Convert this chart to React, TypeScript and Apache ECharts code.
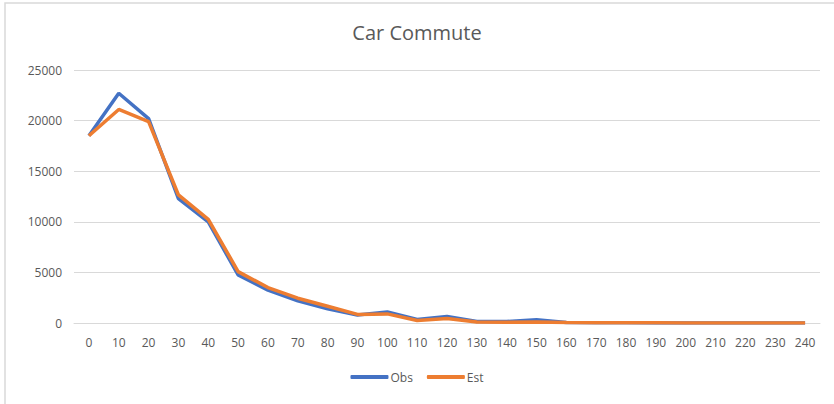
import React, { useEffect, useRef } from "react";
import * as echarts from "echarts";

const categories = ["0","10","20","30","40","50","60","70","80","90","100","110","120","130","140","150","160","170","180","190","200","210","220","230","240"];
const obs = [18500, 22700, 20200, 12300, 10000, 4750, 3250, 2200, 1400, 780, 1100, 350, 650, 150, 150, 330, 50, 20, 15, 10, 10, 10, 5, 5, 5];
const est = [18500, 21100, 19900, 12650, 10250, 5080, 3500, 2450, 1650, 850, 900, 250, 450, 100, 80, 100, 40, 25, 20, 15, 10, 10, 8, 6, 5];
const yTicks = { min: 0, max: 25000, interval: 5000 };

export default function App() {
  const ref = useRef<HTMLDivElement>(null);
  useEffect(() => {
    const chart = echarts.init(ref.current!, null, { renderer: "svg" });
    const font = "'Open Sans', 'Noto Sans', sans-serif";
    chart.setOption({
      animation: false,
      backgroundColor: "#fff",
      title: {
        text: "Car Commute",
        left: "center",
        top: 17,
        textStyle: { color: "#595959", fontSize: 20, fontWeight: "normal", fontFamily: font },
      },
      graphic: [
        {
          type: "rect",
          shape: { x: 5, y: 3, width: 840, height: 420 },
          style: { fill: "none", stroke: "#d9d9d9", lineWidth: 1.5 },
          silent: true,
        },
      ],
      legend: {
        bottom: 16,
        left: "center",
        icon: "roundRect",
        itemWidth: 38,
        itemHeight: 4,
        itemGap: 14,
        textStyle: { color: "#595959", fontSize: 12, fontFamily: font, padding: [0, 0, 0, -3] },
        data: ["Obs", "Est"],
      },
      grid: { left: 74, right: 14, top: 70, bottom: 81 },
      xAxis: {
        type: "category",
        data: categories,
        boundaryGap: true,
        axisLine: { lineStyle: { color: "#d9d9d9" } },
        axisTick: { show: false },
        axisLabel: { color: "#595959", fontSize: 12, fontFamily: font, margin: 13, interval: 0 },
      },
      yAxis: {
        type: "value",
        min: yTicks.min,
        max: yTicks.max,
        interval: yTicks.interval,
        axisLine: { show: false },
        axisTick: { show: false },
        splitLine: { lineStyle: { color: "#d9d9d9" } },
        axisLabel: { color: "#595959", fontSize: 12, fontFamily: font, margin: 12, formatter: (v: number) => String(v) },
      },
      series: [
        {
          name: "Obs",
          type: "line",
          data: obs,
          symbol: "none",
          color: "#4472C4",
          lineStyle: { width: 3.5, color: "#4472C4" },
        },
        {
          name: "Est",
          type: "line",
          data: est,
          symbol: "none",
          color: "#ED7D31",
          lineStyle: { width: 3.5, color: "#ED7D31" },
        },
      ],
    });
    return () => chart.dispose();
  }, []);
  return (
    <div
      ref={ref}
      style={{ position: "fixed", left: 0, top: 0, width: 834, height: 404 }}
    />
  );
}
